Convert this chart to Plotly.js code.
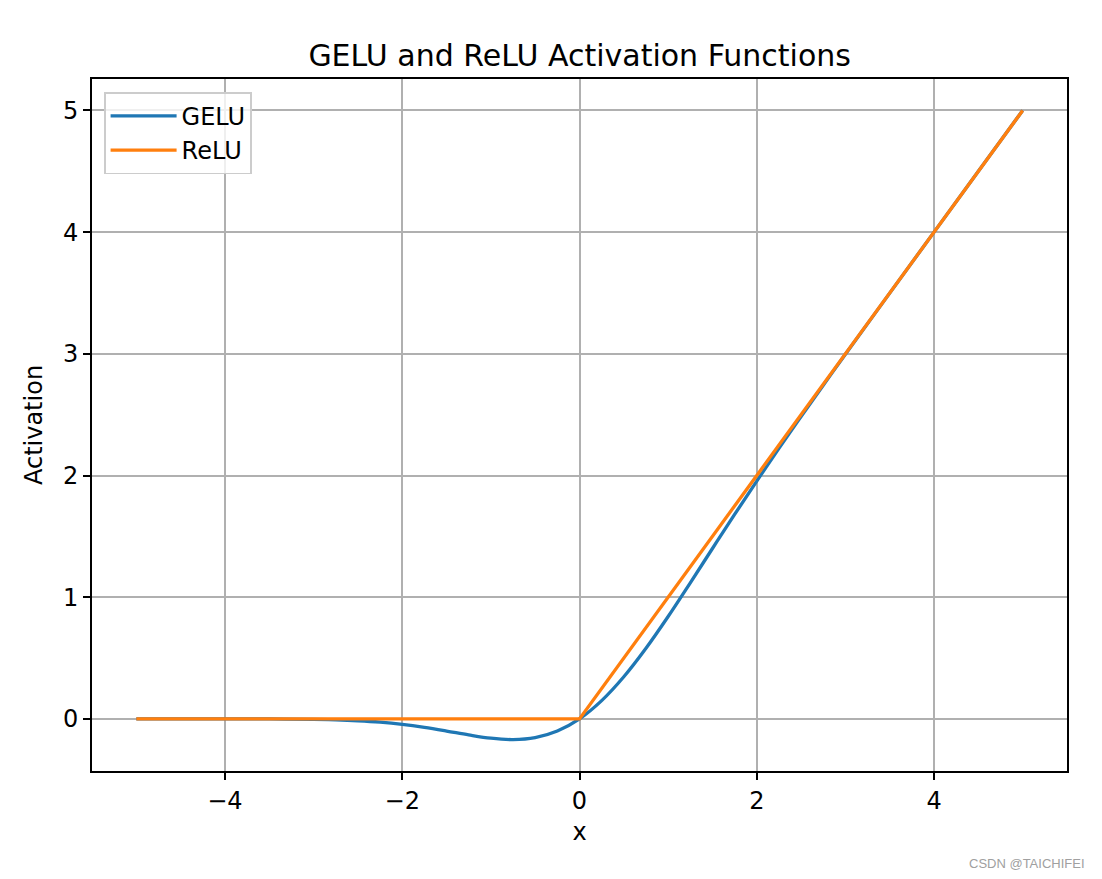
<!DOCTYPE html>
<html>
<head>
<meta charset="utf-8">
<script src="https://cdn.plot.ly/plotly-3.0.1.min.js"></script>
<style>html,body{margin:0;padding:0;background:#fff;}#chart{width:1102px;height:879px;}</style>
</head>
<body>
<div id="chart"></div>
<script>
const xGelu = [-5, -4.5, -4, -3.5, -3, -2.75, -2.5, -2.25, -2, -1.75, -1.5, -1.25, -1, -0.75, -0.5, -0.25, 0, 0.25, 0.5, 0.75, 1, 1.25, 1.5, 1.75, 2, 2.25, 2.5, 2.75, 3, 3.5, 4, 4.5, 5];
const yGelu = [0, 0, -0.0001, -0.0008, -0.004, -0.008, -0.0155, -0.0275, -0.0455, -0.070, -0.100, -0.132, -0.159, -0.170, -0.154, -0.100, 0, 0.150, 0.346, 0.580, 0.841, 1.118, 1.400, 1.680, 1.954, 2.223, 2.484, 2.742, 2.996, 3.499, 4.000, 4.500, 5.000];
const xRelu = [-5, 0, 5];
const yRelu = [0, 0, 5];
const xTicks = [-4, -2, 0, 2, 4];
const yTicks = [0, 1, 2, 3, 4, 5];

const font = {family: 'DejaVu Sans', color: '#000'};
const traces = [
  {x: xGelu, y: yGelu, name: 'GELU', mode: 'lines', line: {color: '#1f77b4', width: 3.3, shape: 'spline'}},
  {x: xRelu, y: yRelu, name: 'ReLU', mode: 'lines', line: {color: '#ff7f0e', width: 3.3}}
];
const axisBase = {
  showgrid: true, gridcolor: '#b0b0b0', gridwidth: 1.6,
  zeroline: false, showline: true, linecolor: '#000', linewidth: 1.6, mirror: true,
  ticks: 'outside', ticklen: 7, tickwidth: 1.6, tickcolor: '#000',
  tickfont: Object.assign({size: 24}, font)
};
const layout = {
  width: 1102, height: 879,
  paper_bgcolor: '#fff', plot_bgcolor: '#fff',
  margin: {l: 92, r: 35, t: 79, b: 108},
  font: font,
  title: {text: 'GELU and ReLU Activation Functions', font: Object.assign({size: 30}, font), x: 0.526, xanchor: 'center', y: 0.937, yanchor: 'middle'},
  xaxis: Object.assign({}, axisBase, {range: [-5.5, 5.5], tickvals: xTicks, title: {text: 'x', font: Object.assign({size: 24}, font), standoff: 10}}),
  yaxis: Object.assign({}, axisBase, {range: [-0.4285, 5.2585], tickvals: yTicks, title: {text: 'Activation', font: Object.assign({size: 24}, font), standoff: 14}}),
  showlegend: true,
  legend: {x: 0.0123, y: 0.981, xanchor: 'left', yanchor: 'top', bgcolor: 'rgba(255,255,255,0.8)', bordercolor: '#cccccc', borderwidth: 1.6,
    font: Object.assign({size: 24}, font), tracegroupgap: 0, itemwidth: 66},
  annotations: [{text: 'CSDN @TAICHIFEI', xref: 'paper', yref: 'paper', x: 1.021, y: -0.133, xanchor: 'right', yanchor: 'middle', showarrow: false,
    font: {family: 'Liberation Sans', size: 13, color: '#a0a0a0'}}]
};
Plotly.newPlot('chart', traces, layout, {displayModeBar: false});
</script>
</body>
</html>
